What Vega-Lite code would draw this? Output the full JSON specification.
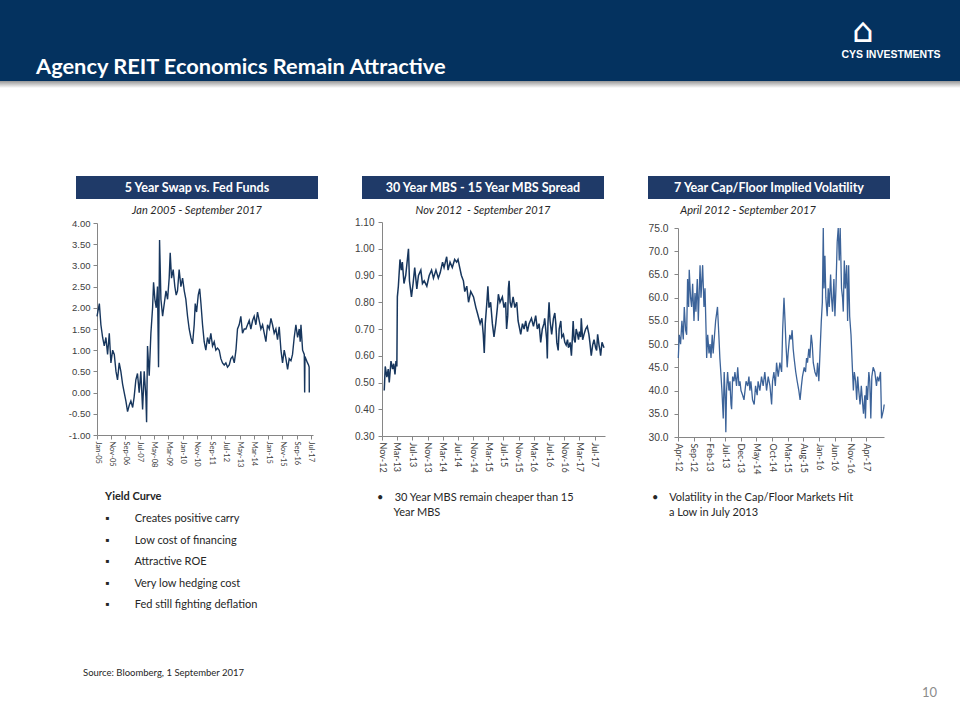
{
"$schema": "https://vega.github.io/schema/vega-lite/v6.json",
"padding": 0,
"background": "white",
"config": {"view": {"stroke": null}, "font": "Lato"},
"datasets": {
"swap": [{"d":"2005-01-01","v":1.8},{"d":"2005-02-20","v":2.1},{"d":"2005-03-25","v":1.6},{"d":"2005-05-01","v":1.3},{"d":"2005-06-05","v":1.1},{"d":"2005-07-10","v":1.3},{"d":"2005-08-15","v":0.9},{"d":"2005-09-20","v":1.4},{"d":"2005-10-25","v":0.7},{"d":"2005-12-01","v":1.0},{"d":"2006-01-05","v":0.9},{"d":"2006-02-10","v":0.5},{"d":"2006-03-15","v":0.3},{"d":"2006-04-20","v":0.7},{"d":"2006-05-25","v":0.5},{"d":"2006-07-01","v":0.2},{"d":"2006-08-05","v":0.0},{"d":"2006-09-10","v":-0.2},{"d":"2006-10-15","v":-0.45},{"d":"2006-11-20","v":-0.3},{"d":"2006-12-25","v":-0.2},{"d":"2007-02-01","v":-0.35},{"d":"2007-03-05","v":-0.1},{"d":"2007-04-10","v":0.3},{"d":"2007-05-15","v":0.45},{"d":"2007-06-20","v":0.0},{"d":"2007-07-25","v":0.5},{"d":"2007-09-01","v":-0.4},{"d":"2007-10-05","v":0.5},{"d":"2007-11-10","v":-0.1},{"d":"2007-11-25","v":-0.7},{"d":"2007-12-15","v":1.1},{"d":"2008-01-20","v":0.4},{"d":"2008-02-25","v":1.4},{"d":"2008-04-01","v":2.0},{"d":"2008-04-22","v":2.6},{"d":"2008-05-20","v":2.2},{"d":"2008-06-18","v":2.0},{"d":"2008-07-15","v":2.5},{"d":"2008-08-06","v":0.6},{"d":"2008-08-28","v":3.6},{"d":"2008-09-26","v":2.2},{"d":"2008-11-01","v":1.8},{"d":"2008-12-06","v":2.1},{"d":"2009-01-12","v":2.4},{"d":"2009-02-15","v":2.2},{"d":"2009-03-21","v":2.7},{"d":"2009-04-12","v":3.3},{"d":"2009-05-10","v":2.7},{"d":"2009-06-15","v":2.9},{"d":"2009-07-20","v":2.5},{"d":"2009-08-18","v":2.3},{"d":"2009-09-15","v":2.4},{"d":"2009-10-20","v":2.9},{"d":"2009-11-26","v":2.5},{"d":"2010-01-01","v":2.7},{"d":"2010-02-06","v":2.4},{"d":"2010-03-12","v":2.2},{"d":"2010-04-17","v":1.8},{"d":"2010-05-22","v":1.5},{"d":"2010-06-27","v":1.3},{"d":"2010-08-02","v":1.15},{"d":"2010-09-06","v":1.6},{"d":"2010-09-28","v":2.1},{"d":"2010-10-27","v":1.9},{"d":"2010-12-01","v":2.3},{"d":"2011-01-01","v":2.45},{"d":"2011-01-28","v":2.1},{"d":"2011-03-03","v":1.6},{"d":"2011-04-07","v":1.2},{"d":"2011-05-12","v":1.0},{"d":"2011-06-17","v":1.3},{"d":"2011-07-22","v":1.15},{"d":"2011-08-27","v":1.4},{"d":"2011-10-02","v":1.1},{"d":"2011-11-07","v":1.2},{"d":"2011-12-12","v":1.0},{"d":"2012-01-17","v":1.05},{"d":"2012-02-22","v":1.0},{"d":"2012-03-28","v":0.8},{"d":"2012-05-02","v":0.7},{"d":"2012-06-08","v":0.65},{"d":"2012-07-13","v":0.7},{"d":"2012-08-17","v":0.6},{"d":"2012-09-23","v":0.65},{"d":"2012-10-28","v":0.8},{"d":"2012-12-03","v":0.85},{"d":"2013-01-08","v":0.7},{"d":"2013-02-13","v":1.0},{"d":"2013-03-18","v":1.5},{"d":"2013-04-23","v":1.6},{"d":"2013-05-28","v":1.8},{"d":"2013-07-03","v":1.4},{"d":"2013-08-08","v":1.5},{"d":"2013-09-13","v":1.5},{"d":"2013-10-18","v":1.6},{"d":"2013-11-23","v":1.7},{"d":"2013-12-28","v":1.5},{"d":"2014-02-03","v":1.7},{"d":"2014-03-09","v":1.8},{"d":"2014-04-14","v":1.6},{"d":"2014-05-19","v":1.9},{"d":"2014-06-24","v":1.7},{"d":"2014-07-30","v":1.5},{"d":"2014-09-04","v":1.6},{"d":"2014-10-09","v":1.4},{"d":"2014-11-14","v":1.2},{"d":"2014-12-19","v":1.6},{"d":"2015-01-25","v":1.5},{"d":"2015-03-01","v":1.75},{"d":"2015-04-04","v":1.6},{"d":"2015-05-10","v":1.4},{"d":"2015-06-15","v":1.5},{"d":"2015-07-20","v":1.25},{"d":"2015-08-25","v":1.55},{"d":"2015-10-01","v":1.0},{"d":"2015-11-04","v":0.7},{"d":"2015-12-10","v":1.0},{"d":"2016-01-15","v":0.8},{"d":"2016-02-20","v":0.55},{"d":"2016-03-25","v":0.8},{"d":"2016-05-01","v":0.75},{"d":"2016-06-04","v":0.9},{"d":"2016-07-10","v":1.3},{"d":"2016-08-15","v":1.6},{"d":"2016-09-20","v":1.3},{"d":"2016-10-25","v":1.5},{"d":"2016-11-15","v":1.2},{"d":"2016-12-01","v":1.6},{"d":"2017-01-05","v":1.0},{"d":"2017-02-10","v":0.9},{"d":"2017-02-18","v":0.0},{"d":"2017-02-25","v":0.85},{"d":"2017-03-15","v":0.8},{"d":"2017-04-20","v":0.7},{"d":"2017-05-12","v":0.65},{"d":"2017-05-25","v":0.6},{"d":"2017-05-28","v":0.0}],
"mbs": [{"d":"2012-11-19","v":0.47},{"d":"2012-11-27","v":0.56},{"d":"2012-12-10","v":0.52},{"d":"2012-12-21","v":0.55},{"d":"2012-12-29","v":0.5},{"d":"2013-01-12","v":0.58},{"d":"2013-01-25","v":0.55},{"d":"2013-02-03","v":0.57},{"d":"2013-02-13","v":0.53},{"d":"2013-02-21","v":0.58},{"d":"2013-02-28","v":0.56},{"d":"2013-03-04","v":0.82},{"d":"2013-03-12","v":0.86},{"d":"2013-03-25","v":0.96},{"d":"2013-04-05","v":0.92},{"d":"2013-04-13","v":0.95},{"d":"2013-04-26","v":0.87},{"d":"2013-05-10","v":0.9},{"d":"2013-06-01","v":1.0},{"d":"2013-06-09","v":0.88},{"d":"2013-06-25","v":0.82},{"d":"2013-07-08","v":0.87},{"d":"2013-07-21","v":0.93},{"d":"2013-08-07","v":0.85},{"d":"2013-08-20","v":0.9},{"d":"2013-09-08","v":0.92},{"d":"2013-09-21","v":0.87},{"d":"2013-10-05","v":0.88},{"d":"2013-10-26","v":0.86},{"d":"2013-11-14","v":0.9},{"d":"2013-12-03","v":0.92},{"d":"2013-12-18","v":0.89},{"d":"2014-01-07","v":0.92},{"d":"2014-01-26","v":0.89},{"d":"2014-02-10","v":0.91},{"d":"2014-03-01","v":0.95},{"d":"2014-03-13","v":0.93},{"d":"2014-04-03","v":0.97},{"d":"2014-04-14","v":0.92},{"d":"2014-04-30","v":0.95},{"d":"2014-05-18","v":0.93},{"d":"2014-06-06","v":0.96},{"d":"2014-06-22","v":0.95},{"d":"2014-07-03","v":0.96},{"d":"2014-07-16","v":0.93},{"d":"2014-07-30","v":0.9},{"d":"2014-08-15","v":0.88},{"d":"2014-08-26","v":0.84},{"d":"2014-09-11","v":0.86},{"d":"2014-09-25","v":0.8},{"d":"2014-10-13","v":0.84},{"d":"2014-11-04","v":0.82},{"d":"2014-11-23","v":0.78},{"d":"2014-12-05","v":0.76},{"d":"2014-12-27","v":0.72},{"d":"2015-01-10","v":0.74},{"d":"2015-01-21","v":0.68},{"d":"2015-01-29","v":0.61},{"d":"2015-02-06","v":0.72},{"d":"2015-02-19","v":0.8},{"d":"2015-02-27","v":0.86},{"d":"2015-03-08","v":0.78},{"d":"2015-03-21","v":0.8},{"d":"2015-04-04","v":0.72},{"d":"2015-04-17","v":0.67},{"d":"2015-05-01","v":0.72},{"d":"2015-05-14","v":0.78},{"d":"2015-05-22","v":0.83},{"d":"2015-06-04","v":0.8},{"d":"2015-06-23","v":0.82},{"d":"2015-07-06","v":0.78},{"d":"2015-07-19","v":0.8},{"d":"2015-07-27","v":0.7},{"d":"2015-08-05","v":0.75},{"d":"2015-08-10","v":0.85},{"d":"2015-08-16","v":0.88},{"d":"2015-08-24","v":0.8},{"d":"2015-09-03","v":0.78},{"d":"2015-09-17","v":0.82},{"d":"2015-10-01","v":0.78},{"d":"2015-10-16","v":0.8},{"d":"2015-10-27","v":0.73},{"d":"2015-11-09","v":0.7},{"d":"2015-11-17","v":0.68},{"d":"2015-12-01","v":0.72},{"d":"2015-12-14","v":0.7},{"d":"2015-12-27","v":0.73},{"d":"2016-01-10","v":0.69},{"d":"2016-01-23","v":0.72},{"d":"2016-02-11","v":0.74},{"d":"2016-02-27","v":0.71},{"d":"2016-03-16","v":0.75},{"d":"2016-03-29","v":0.7},{"d":"2016-04-12","v":0.72},{"d":"2016-04-25","v":0.65},{"d":"2016-05-08","v":0.7},{"d":"2016-05-21","v":0.72},{"d":"2016-05-27","v":0.74},{"d":"2016-06-04","v":0.7},{"d":"2016-06-12","v":0.66},{"d":"2016-06-17","v":0.59},{"d":"2016-06-22","v":0.72},{"d":"2016-07-01","v":0.8},{"d":"2016-07-09","v":0.73},{"d":"2016-07-22","v":0.68},{"d":"2016-08-05","v":0.74},{"d":"2016-08-16","v":0.76},{"d":"2016-08-24","v":0.72},{"d":"2016-09-01","v":0.65},{"d":"2016-09-12","v":0.62},{"d":"2016-09-20","v":0.7},{"d":"2016-10-03","v":0.73},{"d":"2016-10-11","v":0.67},{"d":"2016-10-24","v":0.68},{"d":"2016-11-04","v":0.65},{"d":"2016-11-15","v":0.64},{"d":"2016-11-26","v":0.66},{"d":"2016-12-03","v":0.63},{"d":"2016-12-17","v":0.65},{"d":"2016-12-27","v":0.6},{"d":"2017-01-05","v":0.68},{"d":"2017-01-10","v":0.73},{"d":"2017-01-18","v":0.66},{"d":"2017-01-26","v":0.65},{"d":"2017-02-03","v":0.7},{"d":"2017-02-14","v":0.68},{"d":"2017-02-22","v":0.66},{"d":"2017-03-01","v":0.69},{"d":"2017-03-11","v":0.67},{"d":"2017-03-16","v":0.74},{"d":"2017-03-27","v":0.66},{"d":"2017-04-07","v":0.68},{"d":"2017-04-20","v":0.7},{"d":"2017-05-03","v":0.71},{"d":"2017-05-16","v":0.68},{"d":"2017-05-24","v":0.65},{"d":"2017-06-04","v":0.6},{"d":"2017-06-15","v":0.64},{"d":"2017-06-26","v":0.66},{"d":"2017-07-09","v":0.63},{"d":"2017-07-17","v":0.62},{"d":"2017-07-25","v":0.68},{"d":"2017-08-05","v":0.64},{"d":"2017-08-13","v":0.62},{"d":"2017-08-18","v":0.6},{"d":"2017-08-29","v":0.65},{"d":"2017-09-14","v":0.63}],
"vol": [{"d":"2012-04-04","v":47},{"d":"2012-04-13","v":52},{"d":"2012-04-26","v":50},{"d":"2012-05-09","v":55},{"d":"2012-05-22","v":51},{"d":"2012-06-01","v":58},{"d":"2012-06-14","v":53},{"d":"2012-06-24","v":52},{"d":"2012-07-03","v":64},{"d":"2012-07-13","v":58},{"d":"2012-07-19","v":66},{"d":"2012-08-01","v":60},{"d":"2012-08-11","v":58},{"d":"2012-08-21","v":63},{"d":"2012-09-03","v":55},{"d":"2012-09-13","v":61},{"d":"2012-09-22","v":57},{"d":"2012-10-05","v":64},{"d":"2012-10-15","v":55},{"d":"2012-11-01","v":67},{"d":"2012-11-10","v":60},{"d":"2012-11-26","v":67},{"d":"2012-12-09","v":58},{"d":"2012-12-19","v":62},{"d":"2012-12-29","v":53},{"d":"2013-01-04","v":47},{"d":"2013-01-14","v":52},{"d":"2013-01-27","v":48},{"d":"2013-02-06","v":50},{"d":"2013-02-15","v":47},{"d":"2013-02-27","v":52},{"d":"2013-03-08","v":48},{"d":"2013-03-18","v":51},{"d":"2013-04-01","v":55},{"d":"2013-04-19","v":58},{"d":"2013-05-02","v":52},{"d":"2013-05-12","v":47},{"d":"2013-05-21","v":44},{"d":"2013-06-01","v":40},{"d":"2013-06-14","v":34},{"d":"2013-06-23","v":44},{"d":"2013-07-03","v":38},{"d":"2013-07-09","v":31},{"d":"2013-07-16","v":40},{"d":"2013-07-26","v":44},{"d":"2013-08-08","v":40},{"d":"2013-08-18","v":42},{"d":"2013-08-28","v":37},{"d":"2013-09-03","v":36},{"d":"2013-09-13","v":43},{"d":"2013-09-26","v":42},{"d":"2013-10-05","v":44},{"d":"2013-10-21","v":41},{"d":"2013-11-01","v":45},{"d":"2013-11-14","v":41},{"d":"2013-11-23","v":42},{"d":"2013-12-03","v":40},{"d":"2013-12-19","v":39},{"d":"2014-01-01","v":38},{"d":"2014-01-11","v":40},{"d":"2014-01-21","v":42},{"d":"2014-02-06","v":41},{"d":"2014-02-18","v":43},{"d":"2014-02-27","v":40},{"d":"2014-03-09","v":42},{"d":"2014-03-25","v":38},{"d":"2014-04-10","v":37},{"d":"2014-04-23","v":41},{"d":"2014-05-09","v":39},{"d":"2014-05-18","v":42},{"d":"2014-06-04","v":40},{"d":"2014-06-20","v":43},{"d":"2014-07-06","v":41},{"d":"2014-07-22","v":44},{"d":"2014-08-08","v":40},{"d":"2014-08-24","v":43},{"d":"2014-09-10","v":41},{"d":"2014-09-26","v":37},{"d":"2014-10-05","v":42},{"d":"2014-10-18","v":44},{"d":"2014-11-01","v":41},{"d":"2014-11-13","v":46},{"d":"2014-11-29","v":43},{"d":"2014-12-15","v":46},{"d":"2015-01-01","v":44},{"d":"2015-01-11","v":53},{"d":"2015-01-24","v":60},{"d":"2015-02-03","v":55},{"d":"2015-02-12","v":50},{"d":"2015-02-24","v":45},{"d":"2015-03-05","v":48},{"d":"2015-03-21","v":52},{"d":"2015-04-03","v":51},{"d":"2015-04-13","v":53},{"d":"2015-04-23","v":49},{"d":"2015-05-02","v":47},{"d":"2015-05-18","v":44},{"d":"2015-06-01","v":42},{"d":"2015-06-17","v":40},{"d":"2015-06-29","v":38},{"d":"2015-07-12","v":41},{"d":"2015-07-22","v":43},{"d":"2015-08-08","v":45},{"d":"2015-08-21","v":44},{"d":"2015-08-31","v":47},{"d":"2015-09-09","v":46},{"d":"2015-09-22","v":49},{"d":"2015-10-02","v":47},{"d":"2015-10-15","v":52},{"d":"2015-10-25","v":50},{"d":"2015-11-04","v":46},{"d":"2015-11-20","v":44},{"d":"2015-12-06","v":43},{"d":"2015-12-16","v":46},{"d":"2015-12-28","v":42},{"d":"2016-01-08","v":48},{"d":"2016-01-21","v":55},{"d":"2016-01-31","v":59},{"d":"2016-02-09","v":75},{"d":"2016-02-16","v":62},{"d":"2016-02-25","v":69},{"d":"2016-03-05","v":60},{"d":"2016-03-18","v":56},{"d":"2016-03-28","v":62},{"d":"2016-04-07","v":58},{"d":"2016-04-20","v":65},{"d":"2016-04-29","v":60},{"d":"2016-05-09","v":57},{"d":"2016-05-22","v":64},{"d":"2016-06-01","v":56},{"d":"2016-06-11","v":62},{"d":"2016-06-23","v":72},{"d":"2016-07-03","v":75},{"d":"2016-07-13","v":68},{"d":"2016-07-22","v":75},{"d":"2016-08-04","v":62},{"d":"2016-08-14","v":60},{"d":"2016-08-21","v":57},{"d":"2016-08-31","v":68},{"d":"2016-09-10","v":62},{"d":"2016-09-23","v":67},{"d":"2016-10-02","v":55},{"d":"2016-10-12","v":67},{"d":"2016-10-22","v":56},{"d":"2016-11-04","v":52},{"d":"2016-11-17","v":45},{"d":"2016-11-27","v":40},{"d":"2016-12-06","v":44},{"d":"2016-12-19","v":42},{"d":"2016-12-29","v":38},{"d":"2017-01-08","v":43},{"d":"2017-01-18","v":40},{"d":"2017-01-31","v":37},{"d":"2017-02-12","v":41},{"d":"2017-02-22","v":38},{"d":"2017-03-05","v":35},{"d":"2017-03-18","v":39},{"d":"2017-03-24","v":34},{"d":"2017-04-03","v":41},{"d":"2017-04-13","v":38},{"d":"2017-04-26","v":44},{"d":"2017-05-05","v":42},{"d":"2017-05-15","v":34},{"d":"2017-05-25","v":43},{"d":"2017-06-07","v":45},{"d":"2017-06-23","v":44},{"d":"2017-07-09","v":41},{"d":"2017-07-19","v":43},{"d":"2017-08-01","v":42},{"d":"2017-08-17","v":44},{"d":"2017-08-27","v":34},{"d":"2017-09-06","v":35},{"d":"2017-09-16","v":36},{"d":"2017-09-22","v":37}]
},
"spacing": 88,
"vconcat": [
{
"spacing": 0,
"bounds": "flush",
"hconcat": [
{
"width": 822, "height": 88,
"title": {"text": "Agency REIT Economics Remain Attractive", "orient": "bottom", "anchor": "start", "frame": "group", "offset": -31, "dx": 36, "color": "#ffffff", "fontSize": 21.8, "fontWeight": "bold", "font": "Lato"},
"data": {"values": [{}]},
"mark": {"type": "rect", "fill": {"gradient": "linear", "x1": 0, "y1": 0, "x2": 0, "y2": 1, "stops": [{"offset": 0, "color": "#04325f"}, {"offset": 0.92, "color": "#04325f"}, {"offset": 0.925, "color": "#9d9d9d"}, {"offset": 1, "color": "#ffffff"}]}},
"encoding": {}
},
{
"width": 138, "height": 88,
"data": {"values": [{"logo": "CYS INVESTMENTS", "icon": "\u2302"}]},
"layer": [
{"mark": {"type": "rect", "fill": {"gradient": "linear", "x1": 0, "y1": 0, "x2": 0, "y2": 1, "stops": [{"offset": 0, "color": "#04325f"}, {"offset": 0.92, "color": "#04325f"}, {"offset": 0.925, "color": "#9d9d9d"}, {"offset": 1, "color": "#ffffff"}]}}, "encoding": {}},
{"mark": {"type": "text", "color": "#ffffff", "fontSize": 10.5, "fontWeight": "bold", "font": "Liberation Sans", "dy": 11}, "encoding": {"text": {"field": "logo"}}},
{"mark": {"type": "text", "color": "#ffffff", "fontSize": 34, "font": "DejaVu Sans", "dy": -12, "dx": -28}, "encoding": {"text": {"field": "icon"}}}
]
}
]
},
{
"columns": 4,
"spacing": {"row": 0, "column": 44},
"bounds": "flush",
"concat": [
{"width": 32, "height": 23, "data": {"values": []}, "mark": "point"},
{"width": 242, "height": 23, "view": {"fill": "#1f3a68", "stroke": null}, "data": {"values": [{"t": "5 Year Swap vs. Fed Funds"}]}, "mark": {"type": "text", "color": "#ffffff", "fontWeight": "bold", "fontSize": 12.5, "font": "Lato"}, "encoding": {"text": {"field": "t"}}},
{"width": 242, "height": 23, "view": {"fill": "#1f3a68", "stroke": null}, "data": {"values": [{"t": "30 Year MBS - 15 Year MBS Spread"}]}, "mark": {"type": "text", "color": "#ffffff", "fontWeight": "bold", "fontSize": 12.5, "font": "Lato"}, "encoding": {"text": {"field": "t"}}},
{"width": 242, "height": 23, "view": {"fill": "#1f3a68", "stroke": null}, "data": {"values": [{"t": "7 Year Cap/Floor Implied Volatility"}]}, "mark": {"type": "text", "color": "#ffffff", "fontWeight": "bold", "fontSize": 12.5, "font": "Lato"}, "encoding": {"text": {"field": "t"}}},

{"width": 32, "height": 238, "data": {"values": []}, "mark": "point"},
{
"width": 242, "height": 238,
"title": {"text": "Jan 2005 - September 2017", "anchor": "middle", "frame": "group", "offset": -17, "fontSize": 11, "fontStyle": "italic", "fontWeight": "normal", "color": "#262626", "font": "Lato"},
"data": {"name": "swap"},
"mark": {"type": "line", "color": "#17365d", "strokeWidth": 1.4},
"encoding": {
"x": {"field": "d", "type": "temporal",
"scale": {"type": "utc", "domain": [{"year": 2005, "month": 1, "date": 1, "utc": true}, {"year": 2017, "month": 8, "date": 15, "utc": true}], "range": [21, 237]},
"axis": {"orient": "bottom", "offset": -2, "title": null, "grid": false, "format": "%b-%y", "labelAngle": 90, "labelFlush": false, "labelOverlap": false, "labelBound": false, "domainColor": "#868686", "tickColor": "#868686", "tickSize": 4, "labelPadding": 2, "labelFont": "Lato", "labelFontSize": 7.5, "labelColor": "#404040",
"values": [{"year": 2005, "month": 1, "utc": true}, {"year": 2005, "month": 11, "utc": true}, {"year": 2006, "month": 9, "utc": true}, {"year": 2007, "month": 7, "utc": true}, {"year": 2008, "month": 5, "utc": true}, {"year": 2009, "month": 3, "utc": true}, {"year": 2010, "month": 1, "utc": true}, {"year": 2010, "month": 11, "utc": true}, {"year": 2011, "month": 9, "utc": true}, {"year": 2012, "month": 7, "utc": true}, {"year": 2013, "month": 5, "utc": true}, {"year": 2014, "month": 3, "utc": true}, {"year": 2015, "month": 1, "utc": true}, {"year": 2015, "month": 11, "utc": true}, {"year": 2016, "month": 9, "utc": true}, {"year": 2017, "month": 7, "utc": true}]}},
"y": {"field": "v", "type": "quantitative",
"scale": {"domain": [-1, 4], "range": [236, 24], "nice": false, "zero": false},
"axis": {"orient": "left", "offset": -21, "title": null, "grid": false, "labelExpr": "replace(format(datum.value, '.2f'), '\u2212', '-')", "values": [-1, -0.5, 0, 0.5, 1, 1.5, 2, 2.5, 3, 3.5, 4], "domainColor": "#868686", "tickColor": "#868686", "tickSize": 4, "labelPadding": 3, "labelFont": "Liberation Sans", "labelFontSize": 9.5, "labelColor": "#404040"}}
}
},
{
"width": 242, "height": 238,
"title": {"text": "Nov 2012 \u00a0- September 2017", "anchor": "middle", "frame": "group", "offset": -17, "fontSize": 11, "fontStyle": "italic", "fontWeight": "normal", "color": "#262626", "font": "Lato"},
"data": {"name": "mbs"},
"mark": {"type": "line", "color": "#17365d", "strokeWidth": 1.5},
"encoding": {
"x": {"field": "d", "type": "temporal",
"scale": {"type": "utc", "domain": [{"year": 2012, "month": 11, "date": 1, "utc": true}, {"year": 2017, "month": 9, "date": 22, "utc": true}], "range": [20, 243]},
"axis": {"orient": "bottom", "offset": -1, "title": null, "grid": false, "format": "%b-%y", "labelAngle": 90, "labelFlush": false, "labelOverlap": false, "labelBound": false, "domainColor": "#868686", "tickColor": "#868686", "tickSize": 4, "labelPadding": 2, "labelFont": "Lato", "labelFontSize": 9, "labelColor": "#404040",
"values": [{"year": 2012, "month": 11, "utc": true}, {"year": 2013, "month": 3, "utc": true}, {"year": 2013, "month": 7, "utc": true}, {"year": 2013, "month": 11, "utc": true}, {"year": 2014, "month": 3, "utc": true}, {"year": 2014, "month": 7, "utc": true}, {"year": 2014, "month": 11, "utc": true}, {"year": 2015, "month": 3, "utc": true}, {"year": 2015, "month": 7, "utc": true}, {"year": 2015, "month": 11, "utc": true}, {"year": 2016, "month": 3, "utc": true}, {"year": 2016, "month": 7, "utc": true}, {"year": 2016, "month": 11, "utc": true}, {"year": 2017, "month": 3, "utc": true}, {"year": 2017, "month": 7, "utc": true}]}},
"y": {"field": "v", "type": "quantitative",
"scale": {"domain": [0.3, 1.1], "range": [237, 23], "nice": false, "zero": false},
"axis": {"orient": "left", "offset": -20, "title": null, "grid": false, "format": ".2f", "values": [0.3, 0.4, 0.5, 0.6, 0.7, 0.8, 0.9, 1.0, 1.1], "domainColor": "#868686", "tickColor": "#868686", "tickSize": 4, "labelPadding": 4, "labelFont": "Liberation Sans", "labelFontSize": 10, "labelColor": "#404040"}}
}
},
{
"width": 242, "height": 238,
"title": {"text": "April 2012 - September 2017", "anchor": "middle", "frame": "group", "dx": -21, "offset": -17, "fontSize": 11, "fontStyle": "italic", "fontWeight": "normal", "color": "#262626", "font": "Lato"},
"data": {"name": "vol"},
"mark": {"type": "line", "color": "#3c6399", "strokeWidth": 1.3},
"encoding": {
"x": {"field": "d", "type": "temporal",
"scale": {"type": "utc", "domain": [{"year": 2012, "month": 4, "date": 1, "utc": true}, {"year": 2017, "month": 9, "date": 20, "utc": true}], "range": [30, 236]},
"axis": {"orient": "bottom", "offset": 0, "title": null, "grid": false, "format": "%b-%y", "labelAngle": 90, "labelFlush": false, "labelOverlap": false, "labelBound": false, "domainColor": "#868686", "tickColor": "#868686", "tickSize": 4, "labelPadding": 2, "labelFont": "Lato", "labelFontSize": 9, "labelColor": "#404040",
"values": [{"year": 2012, "month": 4, "utc": true}, {"year": 2012, "month": 9, "utc": true}, {"year": 2013, "month": 2, "utc": true}, {"year": 2013, "month": 7, "utc": true}, {"year": 2013, "month": 12, "utc": true}, {"year": 2014, "month": 5, "utc": true}, {"year": 2014, "month": 10, "utc": true}, {"year": 2015, "month": 3, "utc": true}, {"year": 2015, "month": 8, "utc": true}, {"year": 2016, "month": 1, "utc": true}, {"year": 2016, "month": 6, "utc": true}, {"year": 2016, "month": 11, "utc": true}, {"year": 2017, "month": 4, "utc": true}]}},
"y": {"field": "v", "type": "quantitative",
"scale": {"domain": [30, 75], "range": [238, 29], "nice": false, "zero": false},
"axis": {"orient": "left", "offset": -30, "title": null, "grid": false, "format": ".1f", "values": [30, 35, 40, 45, 50, 55, 60, 65, 70, 75], "domainColor": "#868686", "tickColor": "#868686", "tickSize": 4, "labelPadding": 6, "labelFont": "Liberation Sans", "labelFontSize": 10.3, "labelColor": "#404040"}}
}
},

{"width": 32, "height": 200, "data": {"values": []}, "mark": "point"},
{"width": 242, "height": 200, "data": {"values": []}, "mark": "point",
"title": {"text": "Yield Curve", "subtitle": ["\u25aa\u00a0\u00a0\u00a0\u00a0\u00a0\u00a0\u00a0\u00a0\u00a0Creates positive carry", "\u25aa\u00a0\u00a0\u00a0\u00a0\u00a0\u00a0\u00a0\u00a0\u00a0Low cost of financing", "\u25aa\u00a0\u00a0\u00a0\u00a0\u00a0\u00a0\u00a0\u00a0\u00a0Attractive ROE", "\u25aa\u00a0\u00a0\u00a0\u00a0\u00a0\u00a0\u00a0\u00a0\u00a0Very low hedging cost", "\u25aa\u00a0\u00a0\u00a0\u00a0\u00a0\u00a0\u00a0\u00a0\u00a0Fed still fighting deflation"], "orient": "bottom", "anchor": "start", "frame": "group", "offset": -146, "dx": 29, "font": "Lato", "fontSize": 11, "fontWeight": "bold", "color": "#262626", "subtitleFont": "Lato", "subtitleFontSize": 11, "subtitleColor": "#262626", "subtitleLineHeight": 21.5, "subtitlePadding": 11}},
{"width": 242, "height": 200, "data": {"values": []}, "mark": "point",
"title": {"text": "\u2022\u00a0\u00a0\u00a0\u00a030 Year MBS remain cheaper than 15", "subtitle": "\u200b\u00a0\u00a0\u00a0\u00a0\u00a0\u00a0Year MBS", "orient": "bottom", "anchor": "start", "frame": "group", "offset": -145, "dx": 15, "font": "Lato", "fontSize": 11, "fontWeight": "normal", "color": "#262626", "subtitleFont": "Lato", "subtitleFontSize": 11, "subtitleColor": "#262626", "subtitlePadding": 4}},
{"width": 242, "height": 200, "data": {"values": []}, "mark": "point",
"title": {"text": "\u2022\u00a0\u00a0\u00a0\u00a0Volatility in the Cap/Floor Markets Hit", "subtitle": "\u200b\u00a0\u00a0\u00a0\u00a0\u00a0\u00a0a Low in July 2013", "orient": "bottom", "anchor": "start", "frame": "group", "offset": -145, "dx": 4, "font": "Lato", "fontSize": 11, "fontWeight": "normal", "color": "#262626", "subtitleFont": "Lato", "subtitleFontSize": 11, "subtitleColor": "#262626", "subtitlePadding": 4}},

{"width": 32, "height": 83, "data": {"values": []}, "mark": "point"},
{"width": 242, "height": 83, "data": {"values": []}, "mark": "point",
"title": {"text": "Source: Bloomberg, 1 September 2017", "orient": "bottom", "anchor": "start", "frame": "group", "offset": -52, "dx": 7, "font": "Lato", "fontSize": 9.5, "fontWeight": "normal", "color": "#262626"}},
{"width": 242, "height": 83, "data": {"values": []}, "mark": "point"},
{"width": 242, "height": 83, "data": {"values": []}, "mark": "point",
"title": {"text": "10", "orient": "bottom", "anchor": "end", "frame": "group", "offset": -33, "dx": 47, "font": "Lato", "fontSize": 13, "fontWeight": "normal", "color": "#8c8c8c"}}
]
}
]
}
